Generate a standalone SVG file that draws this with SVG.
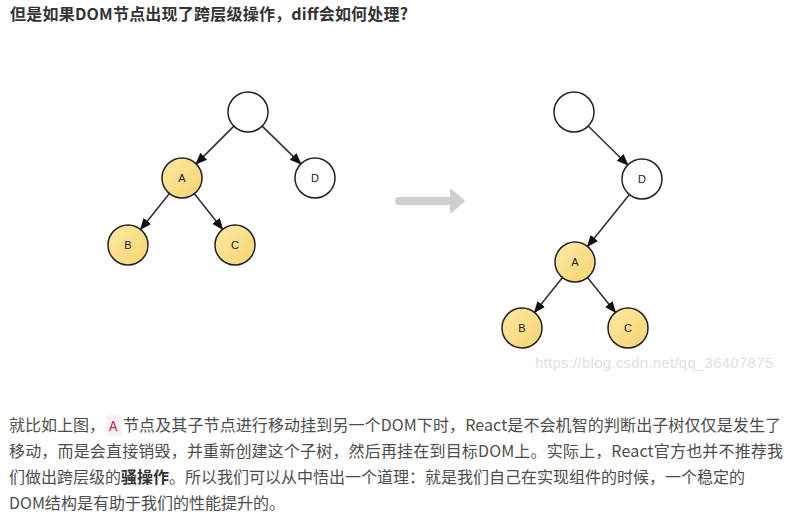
<svg xmlns="http://www.w3.org/2000/svg" width="789" height="518" viewBox="0 0 789 518">
<defs>
<linearGradient id="yel" x1="0" y1="0" x2="1" y2="1">
<stop offset="0" stop-color="#fde9a3"/>
<stop offset="1" stop-color="#f8d472"/>
</linearGradient>
<marker id="ah" markerUnits="userSpaceOnUse" markerWidth="12" markerHeight="12" viewBox="0 0 10 10" refX="9" refY="5" orient="auto">
<path d="M0,1 L10,5 L0,9 Z" fill="#111"/>
</marker>
<style>
.txt{font-family:"Microsoft YaHei","Noto Sans CJK SC","Liberation Sans",sans-serif;font-size:16px;fill:#4d4d4d}
.ttl{font-family:"Microsoft YaHei","Noto Sans CJK SC","Liberation Sans",sans-serif;font-size:16px;font-weight:bold;fill:#333}
.n circle{stroke:#222;stroke-width:1.5}
.w{fill:#fff}
.y{fill:url(#yel)}
.lbl{font-family:"Liberation Sans",Arial,sans-serif;font-size:11px;fill:#222;text-anchor:middle}
.e{stroke:#333;stroke-width:1.6;fill:none;marker-end:url(#ah)}
</style>
</defs>
<rect width="789" height="518" fill="#fff"/>
<text class="ttl" x="10" y="20" textLength="398">但是如果DOM节点出现了跨层级操作，diff会如何处理?</text>

<g id="connectors">
<line class="e" x1="233.9" y1="126.1" x2="196.1" y2="163.9"/>
<line class="e" x1="262.2" y1="126.1" x2="300.8" y2="163.9"/>
<line class="e" x1="169.4" y1="193.6" x2="140.6" y2="229.4"/>
<line class="e" x1="194.4" y1="193.7" x2="222.6" y2="229.3"/>
<line class="e" x1="588.2" y1="126" x2="627.8" y2="165"/>
<line class="e" x1="629.4" y1="194.6" x2="587.6" y2="246.4"/>
<line class="e" x1="562.5" y1="277.6" x2="534.5" y2="312.4"/>
<line class="e" x1="587.5" y1="277.6" x2="615.5" y2="312.4"/>
</g>

<g id="L-root" class="n"><circle class="w" cx="248" cy="112" r="20"/></g>
<g id="L-A" class="n"><circle class="y" cx="182" cy="178" r="20"/><text class="lbl" x="182" y="182">A</text></g>
<g id="L-D" class="n"><circle class="w" cx="315" cy="178" r="20"/><text class="lbl" x="315" y="182">D</text></g>
<g id="L-B" class="n"><circle class="y" cx="128" cy="245" r="20"/><text class="lbl" x="128" y="249">B</text></g>
<g id="L-C" class="n"><circle class="y" cx="235" cy="245" r="20"/><text class="lbl" x="235" y="249">C</text></g>

<g id="R-root" class="n"><circle class="w" cx="574" cy="112" r="20"/></g>
<g id="R-D" class="n"><circle class="w" cx="642" cy="179" r="20"/><text class="lbl" x="642" y="183">D</text></g>
<g id="R-A" class="n"><circle class="y" cx="575" cy="262" r="20"/><text class="lbl" x="575" y="266">A</text></g>
<g id="R-B" class="n"><circle class="y" cx="522" cy="328" r="20"/><text class="lbl" x="522" y="332">B</text></g>
<g id="R-C" class="n"><circle class="y" cx="628" cy="328" r="20"/><text class="lbl" x="628" y="332">C</text></g>

<g id="big-arrow">
<line x1="399" y1="201" x2="452" y2="201" stroke="#cfcfcf" stroke-width="8" stroke-linecap="round"/>
<path d="M451,190 L464,201 L451,212 Z" fill="#cfcfcf" stroke="#cfcfcf" stroke-width="2" stroke-linejoin="round"/>
</g>

<text x="535" y="368" font-family="Liberation Sans, Arial, sans-serif" font-size="15" fill="#e0e0e0" textLength="238">https://blog.csdn.net/qq_36407875</text>

<rect x="106" y="415" width="16" height="21" rx="3" fill="#f9f2f4"/>
<text x="9" y="431" class="txt">就比如上图，</text>
<text x="109" y="431" font-family="Liberation Mono, monospace" font-size="14" fill="#c7254e">A</text>
<text x="123" y="431" class="txt" textLength="658">节点及其子节点进行移动挂到另一个DOM下时，React是不会机智的判断出子树仅仅是发生了</text>
<text x="9" y="457" class="txt" textLength="774">移动，而是会直接销毁，并重新创建这个子树，然后再挂在到目标DOM上。实际上，React官方也并不推荐我</text>
<text x="9" y="483" class="txt" textLength="736">们做出跨层级的<tspan font-weight="bold" fill="#333">骚操作</tspan>。所以我们可以从中悟出一个道理：就是我们自己在实现组件的时候，一个稳定的</text>
<text x="9" y="509" class="txt" textLength="276">DOM结构是有助于我们的性能提升的。</text>
</svg>
